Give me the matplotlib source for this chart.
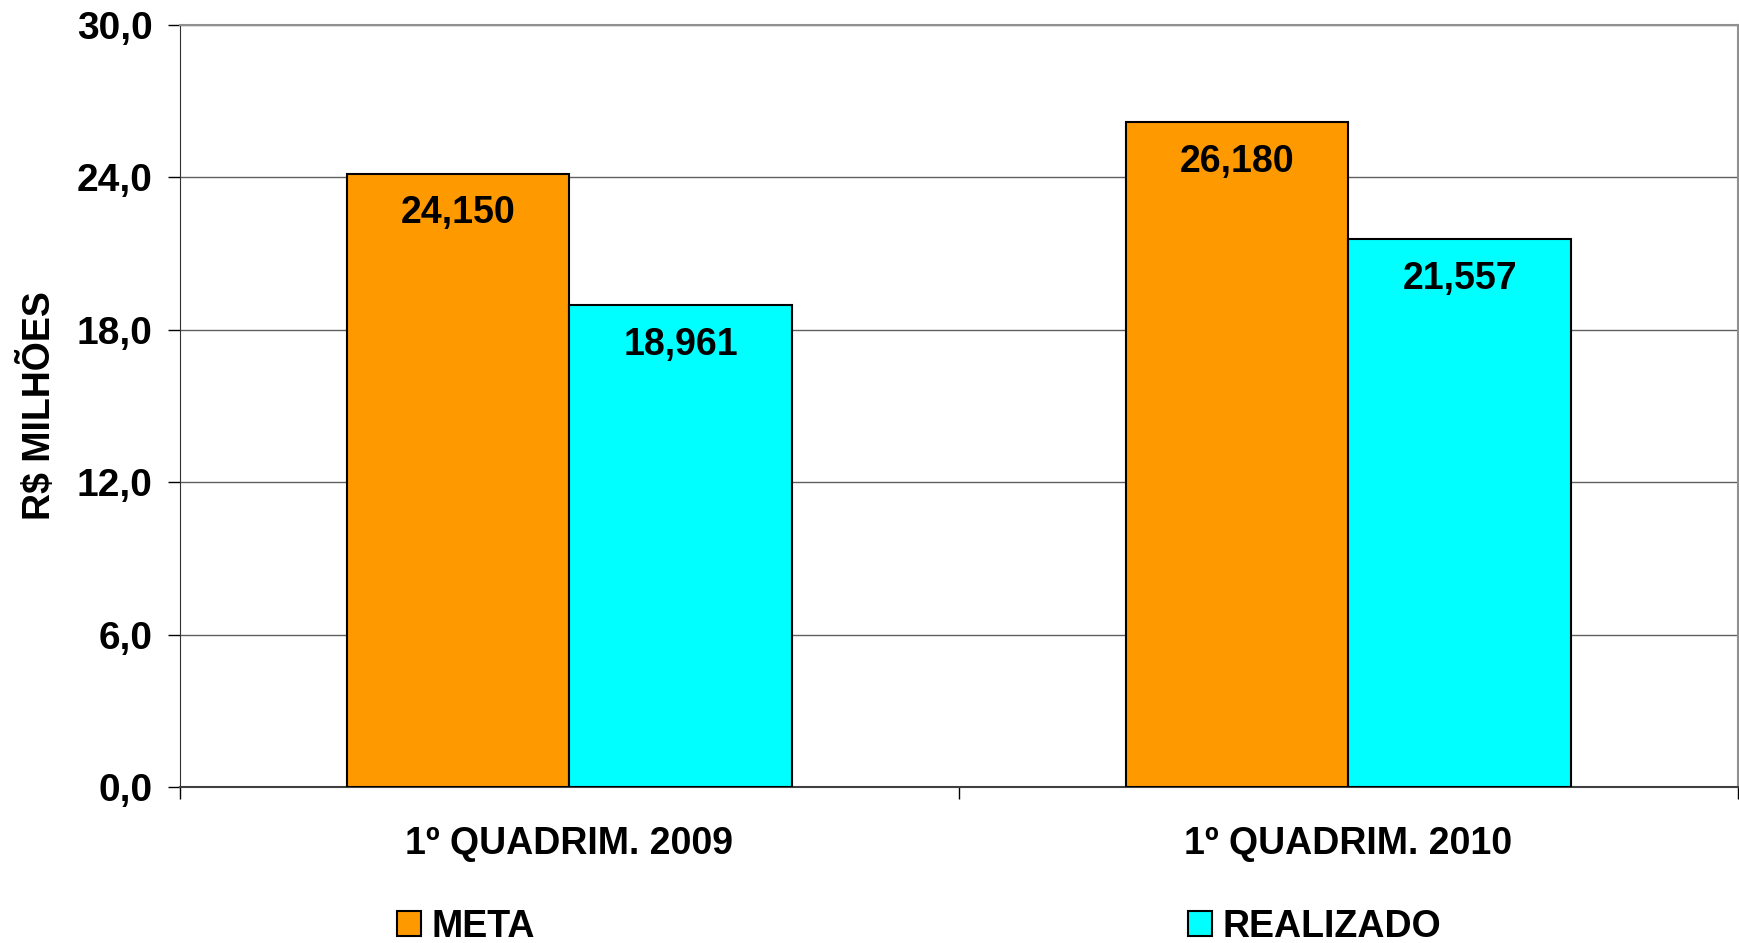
import matplotlib
matplotlib.use("Agg")
import matplotlib.pyplot as plt
import numpy as np
from matplotlib.patches import Patch

categories = ["1º QUADRIM. 2009", "1º QUADRIM. 2010"]
series_names = ["META", "REALIZADO"]
meta = [24.150, 26.180]
realizado = [18.961, 21.557]
yticks = [0, 6, 12, 18, 24, 30]

plt.rcParams['font.family'] = ['Liberation Sans', 'DejaVu Sans']
plt.rcParams['font.weight'] = 'bold'

W, H = 1740, 943
FS = 27
fig = plt.figure(figsize=(W/100, H/100), dpi=100)
ax = fig.add_axes([180/W, 156/H, (1738-180)/W, (787-25)/H])

x = np.arange(len(categories))
bw = 0.286
colors = ['#FF9900', '#00FFFF']
b1 = ax.bar(x - bw/2, meta, bw, color=colors[0], edgecolor='black', linewidth=1.5, zorder=3)
b2 = ax.bar(x + bw/2, realizado, bw, color=colors[1], edgecolor='black', linewidth=1.5, zorder=3)

def fmt(v):
    return f"{v:.3f}".replace('.', ',')

for bars, vals in ((b1, meta), (b2, realizado)):
    for rect, v in zip(bars, vals):
        ax.annotate(fmt(v), (rect.get_x() + rect.get_width()/2, v),
                    xytext=(0, -28.5), textcoords='offset points',
                    ha='center', va='center', fontsize=FS, fontweight='bold', zorder=4)

ax.set_xlim(-0.5, 1.5)
ax.set_ylim(0, 30)
ax.set_yticks(yticks)
ax.set_yticklabels([f"{t:.1f}".replace('.', ',') for t in yticks], fontsize=28, fontweight='bold')
ax.tick_params(axis='y', length=8.6, width=1, pad=11, direction='out')

ax.set_xticks(x)
ax.set_xticklabels(categories, fontsize=FS, fontweight='bold')
ax.tick_params(axis='x', which='major', length=0, pad=28)
ax.set_xticks([-0.5, 0.5, 1.5], minor=True)
ax.tick_params(axis='x', which='minor', length=8.6, width=1, direction='out')

ax.yaxis.grid(True, color='#606060', linewidth=1, zorder=0)
ax.set_axisbelow(True)
for s in ['top', 'right']:
    ax.spines[s].set_color('#909090')
    ax.spines[s].set_linewidth(1.5)
ax.spines['left'].set_color('#303030')
ax.spines['bottom'].set_color('#404040')
ax.spines['bottom'].set_linewidth(1.5)

ax.set_ylabel("R$ MILHÕES", fontsize=FS, fontweight='bold', va='center')
ax.yaxis.set_label_coords((39 - 180) / (1738 - 180), 0.5)

handles = [Patch(facecolor=colors[0], edgecolor='black', linewidth=1.5),
           Patch(facecolor=colors[1], edgecolor='black', linewidth=1.5)]
leg = fig.legend(handles, series_names, loc='center left', ncol=2,
                 bbox_to_anchor=(397/W, 1 - 927/H), frameon=False,
                 prop={'size': FS, 'weight': 'bold'},
                 handlelength=0.65, handleheight=0.65, handletextpad=0.28,
                 columnspacing=17.4, borderpad=0, borderaxespad=0)

fig.savefig("out.png", dpi=100, facecolor='white')
